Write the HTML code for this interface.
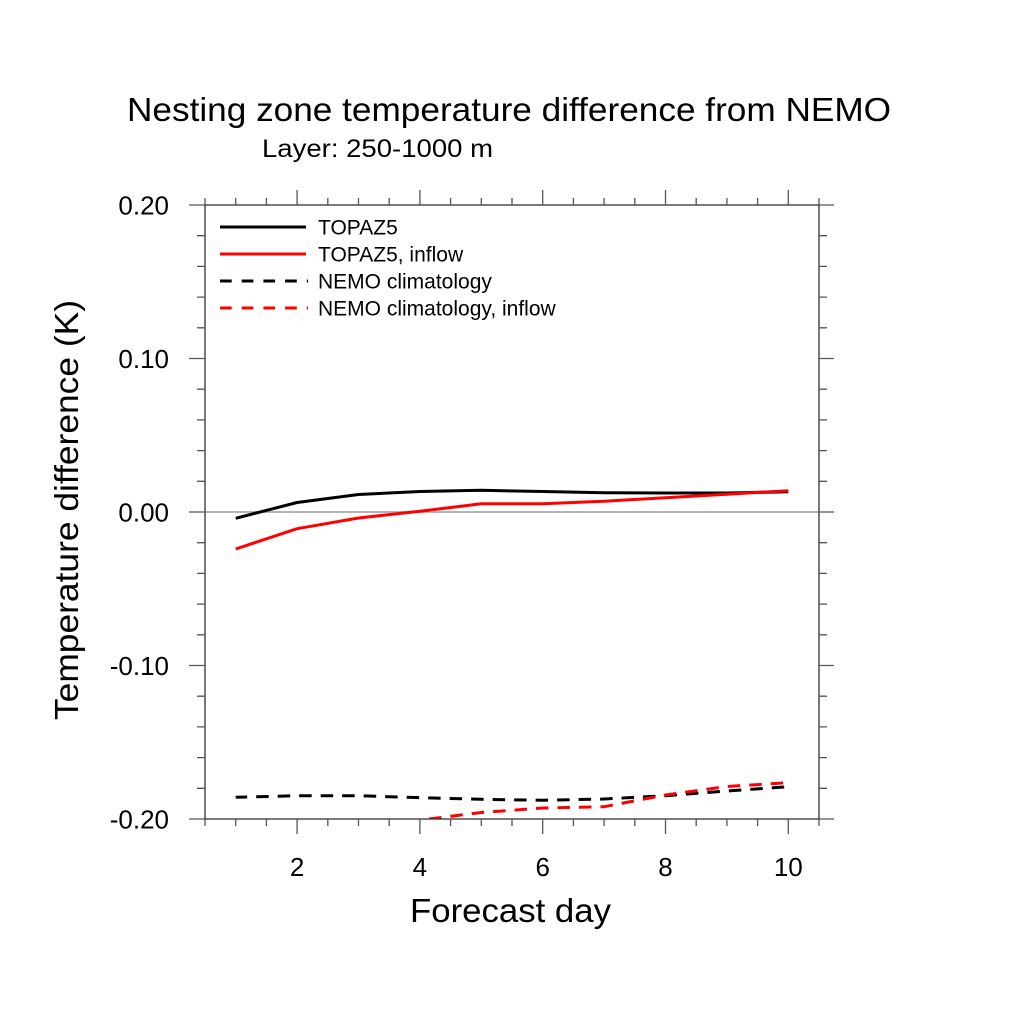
<!DOCTYPE html>
<html>
<head>
<meta charset="utf-8">
<style>
  html, body { margin:0; padding:0; background:#fff; }
  svg { display:block; }
  text { font-family: "Liberation Sans", sans-serif; fill:#000; }
</style>
</head>
<body>
<svg width="1024" height="1024" viewBox="0 0 1024 1024" xmlns="http://www.w3.org/2000/svg">
  <rect x="0" y="0" width="1024" height="1024" fill="#fff"/>

  <!-- Titles -->
  <text x="127" y="121" font-size="33" textLength="764" lengthAdjust="spacingAndGlyphs">Nesting zone temperature difference from NEMO</text>
  <text x="262" y="157" font-size="25" textLength="231" lengthAdjust="spacingAndGlyphs">Layer: 250-1000 m</text>

  <!-- zero reference line -->
  <line x1="205" y1="512" x2="819" y2="512" stroke="#b4b4b4" stroke-width="2"/>

  <defs>
    <clipPath id="pa"><rect x="205" y="205" width="614" height="614"/></clipPath>
  </defs>

  <!-- Series -->
  <g clip-path="url(#pa)" fill="none" stroke-width="3" stroke-linejoin="round">
    <polyline stroke="#000" points="235.7,518.3 297.1,502.5 358.5,494.5 419.9,491.5 481.3,490.3 542.7,491.5 604.1,492.8 665.5,493 726.9,493 788.3,491.8"/>
    <polyline stroke="#f00" points="235.7,549 297.1,528.7 358.5,518 419.9,511.3 481.3,503.8 542.7,503.7 604.1,501.2 665.5,497.8 726.9,494.3 788.3,490.7"/>
    <polyline stroke="#000" stroke-dasharray="12.5 9" stroke-dashoffset="1" points="235.7,797.3 297.1,795.7 358.5,795.7 419.9,797.7 481.3,799.3 542.7,800.3 604.1,799 665.5,795.7 726.9,791 788.3,786.7"/>
    <polyline stroke="#f00" stroke-dasharray="12.5 9" stroke-dashoffset="12.3" points="419.9,820.1 481.3,812.5 542.7,808 604.1,806.7 665.5,795 726.9,786.5 788.3,782.7"/>
  </g>

  <!-- Frame -->
  <rect x="205" y="205" width="614" height="614" fill="none" stroke="#333" stroke-width="1.3"/>

  <!-- Ticks -->
  <g stroke="#555" stroke-width="1.3">
    <path d="
      M205.0,819v7 M235.7,819v7 M266.4,819v7 M327.8,819v7 M358.5,819v7 M389.2,819v7
      M450.6,819v7 M481.3,819v7 M512.0,819v7 M573.4,819v7 M604.1,819v7 M634.8,819v7
      M696.2,819v7 M726.9,819v7 M757.6,819v7 M819.0,819v7
      M205.0,205v-7 M235.7,205v-7 M266.4,205v-7 M327.8,205v-7 M358.5,205v-7 M389.2,205v-7
      M450.6,205v-7 M481.3,205v-7 M512.0,205v-7 M573.4,205v-7 M604.1,205v-7 M634.8,205v-7
      M696.2,205v-7 M726.9,205v-7 M757.6,205v-7 M819.0,205v-7"/>
    <path d="
      M297.1,819v15 M419.9,819v15 M542.7,819v15 M665.5,819v15 M788.3,819v15
      M297.1,205v-15 M419.9,205v-15 M542.7,205v-15 M665.5,205v-15 M788.3,205v-15"/>
    <path d="
      M205,235.7h-8 M205,266.4h-8 M205,297.1h-8 M205,327.8h-8
      M205,389.2h-8 M205,419.9h-8 M205,450.6h-8 M205,481.3h-8
      M205,542.7h-8 M205,573.4h-8 M205,604.1h-8 M205,634.8h-8
      M205,696.2h-8 M205,726.9h-8 M205,757.6h-8 M205,788.3h-8
      M819,235.7h8 M819,266.4h8 M819,297.1h8 M819,327.8h8
      M819,389.2h8 M819,419.9h8 M819,450.6h8 M819,481.3h8
      M819,542.7h8 M819,573.4h8 M819,604.1h8 M819,634.8h8
      M819,696.2h8 M819,726.9h8 M819,757.6h8 M819,788.3h8"/>
    <path d="
      M205,205h-16 M205,358.5h-16 M205,512h-16 M205,665.5h-16 M205,819h-16
      M819,205h15 M819,358.5h15 M819,512h15 M819,665.5h15 M819,819h15"/>
  </g>

  <!-- Y tick labels -->
  <g font-size="26" text-anchor="end">
    <text x="169" y="214.5">0.20</text>
    <text x="169" y="368">0.10</text>
    <text x="169" y="521.5">0.00</text>
    <text x="169" y="675">-0.10</text>
    <text x="169" y="828.5">-0.20</text>
  </g>

  <!-- X tick labels -->
  <g font-size="26" text-anchor="middle">
    <text x="297.1" y="876">2</text>
    <text x="419.9" y="876">4</text>
    <text x="542.7" y="876">6</text>
    <text x="665.5" y="876">8</text>
    <text x="788.3" y="876">10</text>
  </g>

  <!-- Axis titles -->
  <text x="410" y="922" font-size="33" textLength="201" lengthAdjust="spacingAndGlyphs">Forecast day</text>
  <text transform="translate(78,720) rotate(-90)" x="0" y="0" font-size="33" textLength="420" lengthAdjust="spacingAndGlyphs">Temperature difference (K)</text>

  <!-- Legend -->
  <g fill="none" stroke-width="3">
    <line x1="220" y1="227" x2="306" y2="227" stroke="#000"/>
    <line x1="220" y1="254" x2="306" y2="254" stroke="#f00"/>
    <line x1="220" y1="281" x2="308" y2="281" stroke="#000" stroke-dasharray="11.7 10"/>
    <line x1="220" y1="308" x2="308" y2="308" stroke="#f00" stroke-dasharray="11.7 10"/>
  </g>
  <g font-size="21">
    <text x="318" y="234.5">TOPAZ5</text>
    <text x="318" y="261.5">TOPAZ5, inflow</text>
    <text x="318" y="288.5">NEMO climatology</text>
    <text x="318" y="315.5">NEMO climatology, inflow</text>
  </g>
</svg>
</body>
</html>
